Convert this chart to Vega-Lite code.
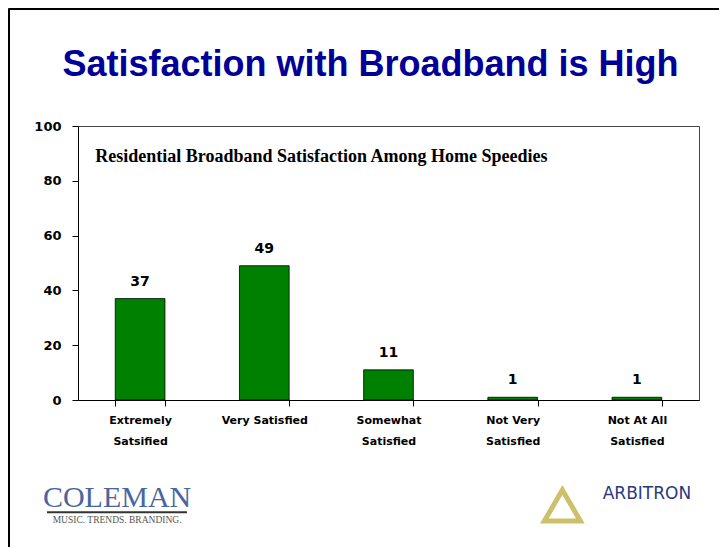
{
  "$schema": "https://vega.github.io/schema/vega-lite/v6.json",
  "autosize": "none",
  "width": 621,
  "height": 274,
  "padding": {"left": 78, "top": 126, "right": 20, "bottom": 147},
  "background": "white",
  "config": {
    "font": "Liberation Sans",
    "view": {"stroke": "#444", "strokeWidth": 1}
  },
  "title": {
    "text": "Satisfaction with Broadband is High",
    "font": "Liberation Sans",
    "fontSize": 36,
    "fontWeight": "bold",
    "color": "#000099",
    "anchor": "middle",
    "frame": "group",
    "offset": -77,
    "dx": -18
  },
  "datasets": {
    "bars": [
      {"category": "Extremely Satsified", "value": 37},
      {"category": "Very Satisfied", "value": 49},
      {"category": "Somewhat Satisfied", "value": 11},
      {"category": "Not Very Satisfied", "value": 1},
      {"category": "Not At All Satisfied", "value": 1}
    ],
    "note": [{"text": "Residential Broadband Satisfaction Among Home Speedies"}],
    "coleman": [{"text": "COLEMAN"}],
    "tagline": [{"text": "MUSIC. TRENDS. BRANDING."}],
    "arbitron": [{"text": "ARBITRON"}],
    "deco": [{"item": "frame"}]
  },
  "layer": [
    {
      "data": {"name": "bars"},
      "mark": {"type": "bar", "color": "#008000", "stroke": "#000", "strokeWidth": 0.8},
      "encoding": {
        "x": {
          "field": "category",
          "type": "nominal",
          "sort": null,
          "scale": {"paddingInner": 0.6, "paddingOuter": 0.3},
          "axis": {
            "title": null,
            "labelAngle": 0,
            "labelFont": "DejaVu Sans",
            "labelFontSize": 11,
            "labelFontWeight": "bold",
            "labelColor": "#000",
            "labelPadding": 8,
            "labelLineHeight": 21,
            "labelExpr": "datum.label == 'Very Satisfied' ? datum.label : [substring(datum.label, 0, lastindexof(datum.label, ' ')), substring(datum.label, lastindexof(datum.label, ' ') + 1)]",
            "tickBand": "extent",
            "tickSize": 6,
            "tickColor": "#000",
            "domainColor": "#000",
            "grid": false
          }
        },
        "y": {
          "field": "value",
          "type": "quantitative",
          "scale": {"domain": [0, 100], "nice": false},
          "axis": {
            "title": null,
            "values": [0, 20, 40, 60, 80, 100],
            "labelFont": "DejaVu Sans",
            "labelFontSize": 13,
            "labelFontWeight": "bold",
            "labelColor": "#000",
            "labelPadding": 11,
            "tickSize": 6,
            "tickColor": "#000",
            "domainColor": "#000",
            "grid": false
          }
        }
      }
    },
    {
      "data": {"name": "bars"},
      "mark": {"type": "text", "font": "DejaVu Sans", "fontSize": 14, "fontWeight": "bold", "baseline": "alphabetic", "dy": -13, "color": "#000"},
      "encoding": {
        "x": {"field": "category", "type": "nominal", "sort": null},
        "y": {"field": "value", "type": "quantitative"},
        "text": {"field": "value", "type": "quantitative"}
      }
    },
    {
      "data": {"name": "note"},
      "mark": {"type": "text", "font": "Liberation Serif", "fontSize": 18, "fontWeight": "bold", "align": "left", "baseline": "alphabetic", "dx": -20, "color": "#000"},
      "encoding": {
        "x": {"datum": "Extremely Satsified", "bandPosition": 0},
        "y": {"datum": 86.9},
        "text": {"field": "text"}
      }
    },
    {
      "data": {"name": "coleman"},
      "mark": {"type": "text", "font": "Liberation Serif", "fontSize": 30, "align": "center", "baseline": "alphabetic", "dx": -23, "color": "#4a66a0"},
      "encoding": {
        "x": {"datum": "Extremely Satsified"},
        "y": {"datum": -39.05},
        "text": {"field": "text"}
      }
    },
    {
      "data": {"name": "deco"},
      "mark": {"type": "rule", "color": "#333", "strokeWidth": 2},
      "encoding": {
        "x": {"datum": "Extremely Satsified", "bandPosition": -1.374},
        "x2": {"datum": "Extremely Satsified", "bandPosition": 1.443},
        "y": {"datum": -41}
      }
    },
    {
      "data": {"name": "tagline"},
      "mark": {"type": "text", "font": "Liberation Serif", "fontSize": 9.5, "align": "center", "baseline": "alphabetic", "dx": -23, "color": "#555"},
      "encoding": {
        "x": {"datum": "Extremely Satsified"},
        "y": {"datum": -44.9},
        "text": {"field": "text"}
      }
    },
    {
      "data": {"name": "arbitron"},
      "mark": {"type": "text", "font": "DejaVu Sans", "fontSize": 17, "fontWeight": "normal", "align": "center", "baseline": "alphabetic", "dx": 10, "color": "#2a3a7a"},
      "encoding": {
        "x": {"datum": "Not At All Satisfied"},
        "y": {"datum": -36.1},
        "text": {"field": "text"}
      }
    },
    {
      "data": {"name": "deco"},
      "mark": {"type": "point", "shape": "triangle-up", "filled": false, "size": 1300, "stroke": "#b8a62e", "strokeWidth": 5},
      "encoding": {
        "x": {"datum": "Not Very Satisfied", "bandPosition": 1.5},
        "y": {"datum": -38.5}
      }
    },
    {
      "data": {"name": "deco"},
      "mark": {"type": "rule", "color": "#000", "strokeWidth": 2},
      "encoding": {
        "x": {"datum": "Extremely Satsified", "bandPosition": -2.139},
        "x2": {"datum": "Not At All Satisfied", "bandPosition": 2.2},
        "y": {"datum": 142.7}
      }
    },
    {
      "data": {"name": "deco"},
      "mark": {"type": "rule", "color": "#000", "strokeWidth": 2},
      "encoding": {
        "x": {"datum": "Extremely Satsified", "bandPosition": -2.139},
        "y": {"datum": 143},
        "y2": {"datum": -56}
      }
    }
  ]
}
